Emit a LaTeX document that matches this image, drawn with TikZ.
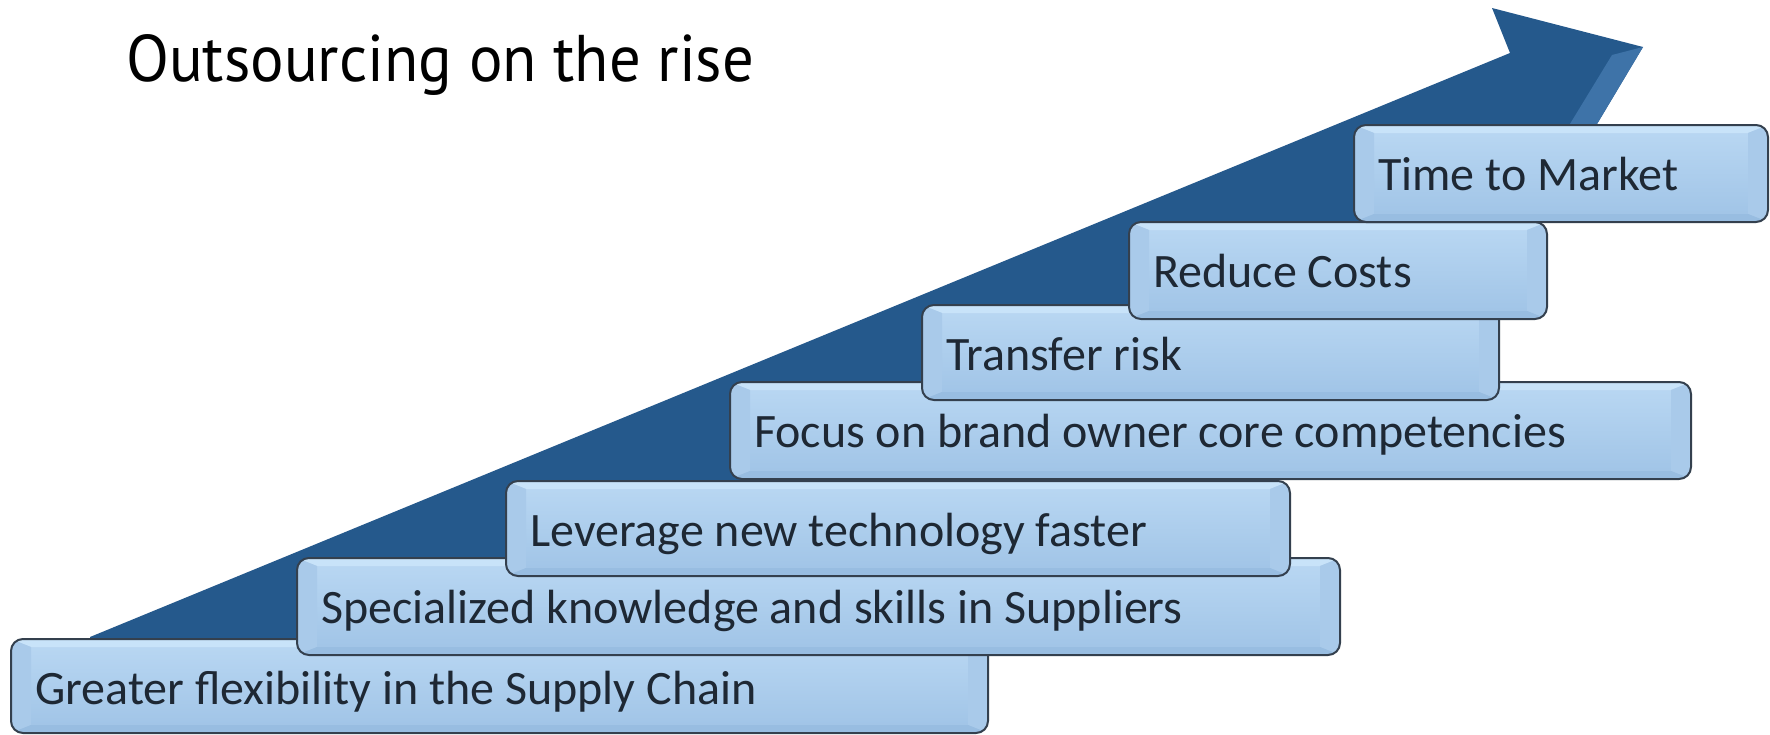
\documentclass[tikz,border=0pt]{standalone}
\usepackage{fontspec}
\setmainfont{Carlito}
\newfontfamily\titlefont[FakeStretch=0.95]{PT Sans}
\usetikzlibrary{calc}
\definecolor{arrowblue}{RGB}{37,89,140}
\definecolor{arrowlight}{RGB}{62,115,168}
\definecolor{boxbase}{RGB}{159,195,230}
\definecolor{boxhi}{RGB}{186,216,243}
\definecolor{boxtop}{RGB}{200,227,249}
\definecolor{boxside}{RGB}{169,202,234}
\definecolor{boxbottom}{RGB}{152,189,225}
\definecolor{boxline}{RGB}{52,64,78}
\definecolor{txt}{RGB}{30,40,52}
\tikzset{
  boxframe/.style={draw=boxline, line width=2pt, rounded corners=12pt, inner sep=0pt, outer sep=0pt},
  boxtext/.style={text=txt, inner sep=0pt, font=\fontsize{48}{56}\selectfont},
  titletext/.style={text=black, inner sep=0pt, font=\titlefont\fontsize{66}{78}\selectfont},
}
\newcommand\stepbox[6]{%
  \begin{scope}
    \clip[rounded corners=12pt] (#2,#3) rectangle ++(#4,#5);
    \shade[top color=boxhi, middle color=boxbase, bottom color=boxbase] (#2,#3) rectangle ++(#4,#5);
    \fill[boxtop] (#2,#3) -- ++(#4,0) -- ({#2+#4-20},{#3+8}) -- ({#2+20},{#3+8}) -- cycle;
    \fill[boxside] (#2,#3) -- ({#2+20},{#3+8}) -- ({#2+20},{#3+#5-8}) -- (#2,{#3+#5}) -- cycle;
    \fill[boxside] ({#2+#4},#3) -- ({#2+#4-20},{#3+8}) -- ({#2+#4-20},{#3+#5-8}) -- ({#2+#4},{#3+#5}) -- cycle;
    \fill[boxbottom] (#2,{#3+#5}) -- ({#2+20},{#3+#5-8}) -- ({#2+#4-20},{#3+#5-8}) -- ({#2+#4},{#3+#5}) -- cycle;
  \end{scope}
  \node[boxframe, minimum width=#4pt, minimum height=#5pt, anchor=north west] (#1) at (#2,#3) {};
  \node[boxtext, anchor=base west] (#1-t) at ($(#1.north west)+(24,65)$) {#6};
}
\begin{document}
\begin{tikzpicture}[x=1pt, y=-1pt]
  \useasboundingbox (0,0) rectangle (1770,734);
  \fill[white] (0,0) rectangle (1770,734);
  % title
  \node[titletext, anchor=base west] (title) at (126,81) {Outsourcing on the rise};
  % rising arrow
  \fill[arrowblue] (90,637) -- (1510,53) -- (1492,8) -- (1643,47) -- (1563,181) -- (1544,136) -- (1039,650) -- (90,652) -- cycle;
  \fill[arrowlight] (1643,47) -- (1563,181) -- (1548,160) -- (1612,55) -- cycle;
  % steps
  \stepbox{s1}{11}{639}{977}{94}{Greater flexibility in the Supply Chain}
  \stepbox{s2}{297}{558}{1043}{97}{Specialized knowledge and skills in Suppliers}
  \stepbox{s3}{506}{481}{784}{95}{Leverage new technology faster}
  \stepbox{s4}{730}{382}{961}{97}{Focus on brand owner core competencies}
  \stepbox{s5}{922}{305}{577}{95}{Transfer risk}
  \stepbox{s6}{1129}{222}{418}{97}{Reduce Costs}
  \stepbox{s7}{1354}{125}{414}{97}{Time to Market}
\end{tikzpicture}
\end{document}
